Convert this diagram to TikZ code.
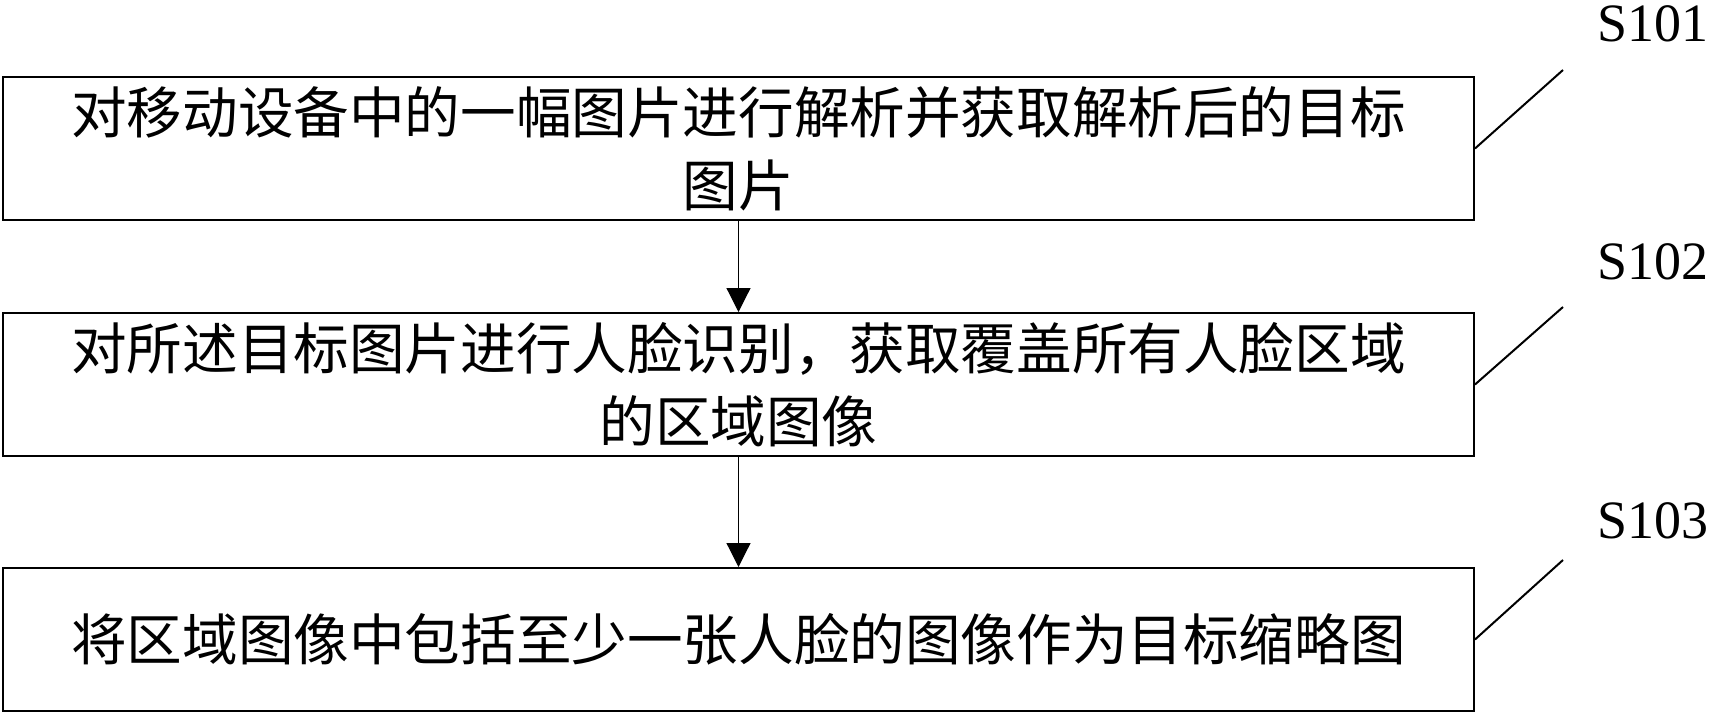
\documentclass[tikz,border=0pt]{standalone}
\usepackage{fontspec}
\setmainfont{Liberation Serif}
\newfontfamily\cjk{Noto Sans CJK SC}
\usetikzlibrary{arrows.meta,positioning}

\begin{document}
\begin{tikzpicture}[
  stepbox/.style={draw, line width=1pt, align=center, inner sep=0pt, minimum width=735.5pt, minimum height=71.5pt, font=\cjk\fontsize{27.8pt}{36.5pt}\selectfont},
  flow/.style={-{Triangle[length=12pt, width=12pt]}, line width=0.6pt},
  leader/.style={line width=1pt},
  steplabel/.style={font=\fontsize{27pt}{30pt}\selectfont, inner sep=0pt}
]
\useasboundingbox (0,0) rectangle (860pt,-356pt);

\node[stepbox] (s1) at (369.25pt,-74.25pt) {对移动设备中的一幅图片进行解析并获取解析后的目标\\图片};
\node[stepbox, below=45.5pt of s1] (s2) {对所述目标图片进行人脸识别，获取覆盖所有人脸区域\\的区域图像};
\node[stepbox, below=55pt of s2] (s3) {将区域图像中包括至少一张人脸的图像作为目标缩略图};

\draw[flow] (s1) -- (s2);
\draw[flow] (s2) -- (s3);

% step labels
\coordinate (t1) at (781.5pt,-35pt);
\coordinate (t2) at (781.5pt,-153.5pt);
\coordinate (t3) at (781.5pt,-280pt);
\node[steplabel] (l1) at (826.5pt,-12pt) {S101};
\node[steplabel] (l2) at (826.5pt,-131pt) {S102};
\node[steplabel] (l3) at (826.5pt,-260.5pt) {S103};

\draw[leader] (s1.east) -- (t1);
\draw[leader] (s2.east) -- (t2);
\draw[leader] (s3.east) -- (t3);
\end{tikzpicture}
\end{document}
